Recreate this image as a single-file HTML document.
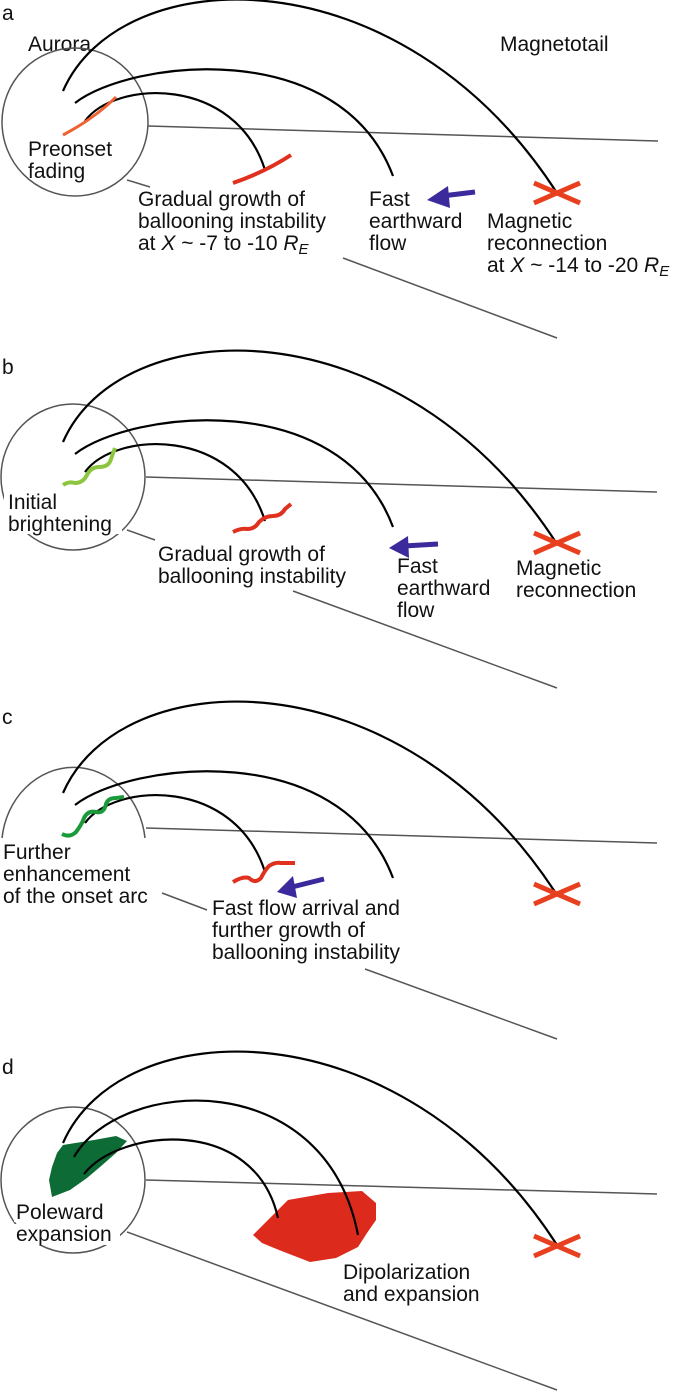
<!DOCTYPE html>
<html><head><meta charset="utf-8"><style>
html,body{margin:0;padding:0;background:#fff;}
svg{display:block;}
text{font-family:"Liberation Sans",Arial,sans-serif;font-size:21px;fill:#111;}
</style></head><body>
<svg width="685" height="1392" viewBox="0 0 685 1392" xmlns="http://www.w3.org/2000/svg">
<defs>
<g id="arcs" fill="none" stroke="#000" stroke-width="2.2">
<path d="M63,91 C120,-40 400,-50 557,193"/>
<path d="M75,103 C130,60 340,35 393,176"/>
<path d="M85,121 C115,80 235,75 265,170"/>
</g>
<g id="xmark" stroke="#e8401f" stroke-width="5">
<line x1="-23" y1="-10" x2="23" y2="10"/>
<line x1="-23" y1="10" x2="23" y2="-10"/>
</g>
</defs>

<!-- Panel a -->
<text x="2" y="20">a</text>
<text x="28" y="51">Aurora</text>
<text x="500" y="51">Magnetotail</text>
<g fill="none" stroke="#555" stroke-width="1.5">
<ellipse cx="75" cy="122" rx="73" ry="74"/>
<line x1="148" y1="126" x2="658" y2="141"/>
<line x1="343" y1="258" x2="557" y2="338"/>
<line x1="127" y1="180" x2="150" y2="187"/>
</g>
<use href="#arcs"/>
<path d="M63,135 Q95,118 116,97" fill="none" stroke="#f06030" stroke-width="3"/>
<path d="M233,183 Q265,172 291,155" fill="none" stroke="#e0301e" stroke-width="4"/>
<use href="#xmark" x="557" y="193"/>
<line x1="475" y1="192" x2="442" y2="196" stroke="#3a2a9c" stroke-width="5"/>
<polygon points="427,200 448,186 450,208" fill="#3a2a9c"/>
<text x="28" y="156">Preonset</text>
<text x="28" y="178">fading</text>
<text x="138" y="206">Gradual growth of</text>
<text x="138" y="228">ballooning instability</text>
<text x="138" y="250">at <tspan font-style="italic">X</tspan> ~ -7 to -10 <tspan font-style="italic">R</tspan><tspan font-style="italic" font-size="15" dy="4">E</tspan></text>
<text x="369" y="206">Fast</text>
<text x="369" y="228">earthward</text>
<text x="369" y="250">flow</text>
<text x="487" y="228">Magnetic</text>
<text x="487" y="250">reconnection</text>
<text x="487" y="272">at <tspan font-style="italic">X</tspan> ~ -14 to -20 <tspan font-style="italic">R</tspan><tspan font-style="italic" font-size="15" dy="4">E</tspan></text>

<!-- Panel b -->
<text x="2" y="374">b</text>
<g fill="none" stroke="#555" stroke-width="1.5">
<ellipse cx="73" cy="477" rx="72" ry="73"/>
<line x1="146" y1="477" x2="657" y2="492"/>
<line x1="293" y1="591" x2="557" y2="688"/>
<line x1="127" y1="530" x2="155" y2="540"/>
</g>
<rect x="4" y="492" width="118" height="42" fill="#fff"/>
<use href="#arcs" y="351"/>
<path d="M63,485 q6,-4 12,-2 q8,0 12,-8 q4,-8 12,-8 q10,0 12,-8 l4,-11" fill="none" stroke="#8cc63f" stroke-width="4"/>
<path d="M233,532 q8,-4 14,-3 q8,0 12,-7 q6,-6 14,-6 q8,0 12,-7 l6,-5" fill="none" stroke="#e0301e" stroke-width="4"/>
<use href="#xmark" x="557" y="543"/>
<line x1="438" y1="544" x2="404" y2="546" stroke="#3a2a9c" stroke-width="5"/>
<polygon points="389,548 408,536 409,558" fill="#3a2a9c"/>
<text x="8" y="509">Initial</text>
<text x="8" y="531">brightening</text>
<text x="158" y="561">Gradual growth of</text>
<text x="158" y="583">ballooning instability</text>
<text x="397" y="573">Fast</text>
<text x="397" y="595">earthward</text>
<text x="397" y="617">flow</text>
<text x="516" y="575">Magnetic</text>
<text x="516" y="597">reconnection</text>

<!-- Panel c -->
<text x="2" y="724">c</text>
<g fill="none" stroke="#555" stroke-width="1.5">
<path d="M2,838 A72,80 0 0 1 145,838"/>
<line x1="146" y1="828" x2="657" y2="843"/>
<line x1="365" y1="969" x2="557" y2="1039"/>
<line x1="162" y1="893" x2="207" y2="910"/>
</g>
<use href="#arcs" y="702"/>
<path d="M62,834 q8,4 14,-2 q6,-8 8,-14 q4,-8 12,-6 q8,2 10,-8 q2,-6 10,-6 l8,-1" fill="none" stroke="#1a9a3a" stroke-width="4"/>
<path d="M233,882 q10,-6 16,-4 q6,6 12,0 q4,-8 8,-12 q6,-4 12,-3 l14,0" fill="none" stroke="#e0301e" stroke-width="4"/>
<use href="#xmark" x="557" y="894"/>
<line x1="324" y1="879" x2="292" y2="887" stroke="#3a2a9c" stroke-width="5"/>
<polygon points="277,892 293,876 297,898" fill="#3a2a9c"/>
<text x="3" y="859">Further</text>
<text x="3" y="881">enhancement</text>
<text x="3" y="903">of the onset arc</text>
<text x="212" y="915">Fast flow arrival and</text>
<text x="212" y="937">further growth of</text>
<text x="212" y="959">ballooning instability</text>

<!-- Panel d -->
<text x="2" y="1074">d</text>
<g fill="none" stroke="#555" stroke-width="1.5">
<ellipse cx="73" cy="1180" rx="72" ry="73"/>
<line x1="146" y1="1180" x2="657" y2="1194"/>
<line x1="127" y1="1232" x2="557" y2="1390"/>
</g>
<rect x="14" y="1202" width="104" height="20" fill="#fff"/>
<rect x="14" y="1224" width="106" height="21" fill="#fff"/>
<polygon points="63,1145 94,1140 116,1136 127,1141 116,1153 100,1167 87,1178 70,1190 52,1197 49,1180 52,1167 57,1153" fill="#0d6b35"/>
<polygon points="253,1235 266,1222 288,1200 328,1193 362,1191 376,1203 376,1220 367,1233 358,1247 336,1258 310,1262 279,1250 262,1243" fill="#dc2a1c"/>
<g fill="none" stroke="#000" stroke-width="2.2">
<path d="M63,1143 C120,1012 400,1002 557,1245"/>
<path d="M74,1157 C120,1077 325,1065 358,1235"/>
<path d="M84,1174 C120,1128 255,1115 278,1218"/>
</g>
<use href="#xmark" x="557" y="1246"/>
<text x="16" y="1219">Poleward</text>
<text x="16" y="1241">expansion</text>
<text x="343" y="1279">Dipolarization</text>
<text x="343" y="1301">and expansion</text>
</svg>
</body></html>
